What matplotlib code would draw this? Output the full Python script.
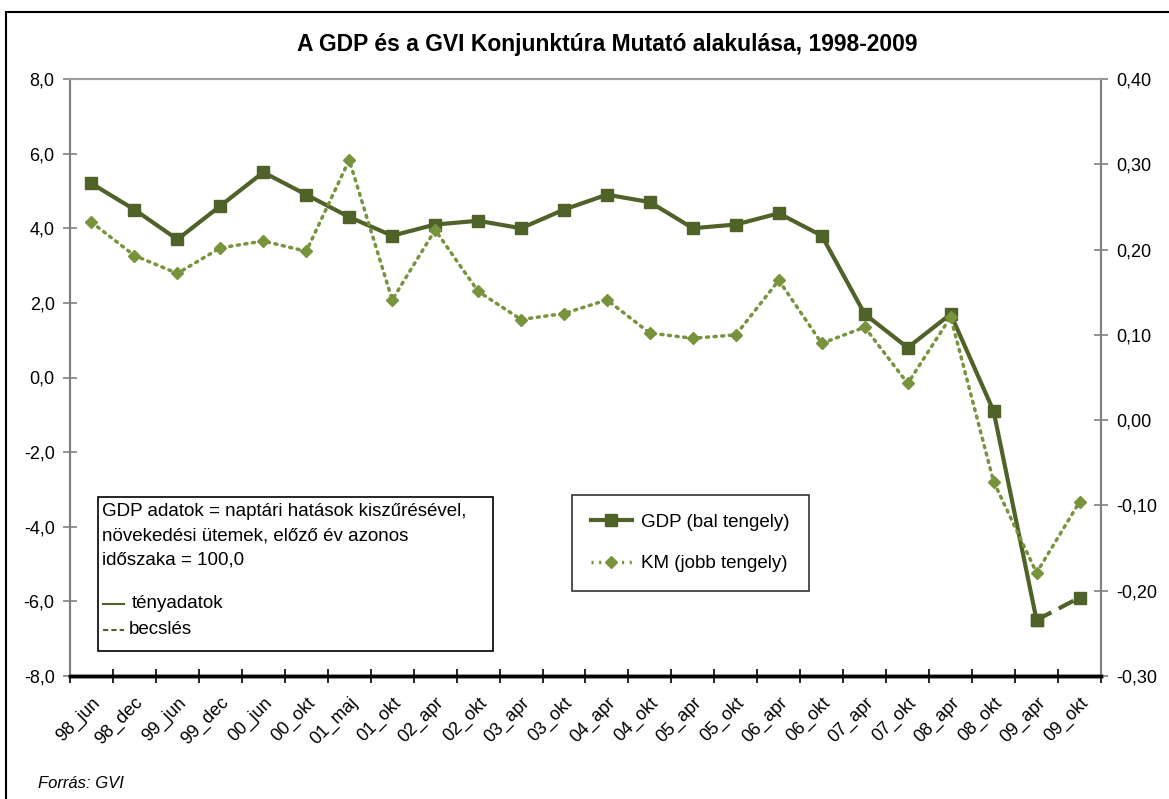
import numpy as np
import matplotlib.pyplot as plt
from matplotlib.lines import Line2D
from matplotlib.patches import Rectangle
from matplotlib.ticker import FuncFormatter

plt.rcParams['font.family'] = ['Liberation Sans', 'DejaVu Sans']

periods = ['98_jun', '98_dec', '99_jun', '99_dec', '00_jun', '00_okt', '01_maj', '01_okt',
           '02_apr', '02_okt', '03_apr', '03_okt', '04_apr', '04_okt', '05_apr', '05_okt',
           '06_apr', '06_okt', '07_apr', '07_okt', '08_apr', '08_okt', '09_apr', '09_okt']
gdp = [5.2, 4.5, 3.7, 4.6, 5.5, 4.9, 4.3, 3.8, 4.1, 4.2, 4.0, 4.5,
       4.9, 4.7, 4.0, 4.1, 4.4, 3.8, 1.7, 0.8, 1.7, -0.9, -6.5, -5.9]
km = [0.232, 0.193, 0.172, 0.202, 0.210, 0.198, 0.305, 0.141, 0.223, 0.151, 0.118, 0.125,
      0.141, 0.102, 0.096, 0.100, 0.164, 0.090, 0.109, 0.043, 0.121, -0.072, -0.179, -0.096]
n_actual = 23  # first 23 GDP values are actual data, last segment is estimate

dark = '#4F6228'
light = '#77933C'
W, H = 1169, 799

def fx(px):
    return px / W

def fy(py):
    return 1 - py / H

fig = plt.figure(figsize=(W / 100, H / 100), dpi=100)
ax = fig.add_axes([fx(70), fy(676), fx(1101) - fx(70), fy(79) - fy(676)])
ax2 = ax.twinx()

x = np.arange(len(periods))
ax.plot(x[:n_actual], gdp[:n_actual], color=dark, lw=3, marker='s', ms=8, zorder=4)
ax.plot(x[n_actual - 1:], gdp[n_actual - 1:], color=dark, lw=3, ls=(0, (4, 2)),
        marker='s', ms=8, zorder=4)
ax2.plot(x, km, color=light, lw=2.5, ls=(0, (0.6, 1.6)), dash_capstyle='round',
         marker='D', ms=6.5, zorder=3)

ax.set_xlim(-0.5, len(periods) - 0.5)
ax.set_ylim(-8, 8)
ax2.set_ylim(-0.30, 0.40)
ax.set_yticks(np.arange(-8, 8.1, 2))
ax2.set_yticks(np.arange(-0.30, 0.401, 0.10))
ax.yaxis.set_major_formatter(FuncFormatter(lambda v, p: f'{v:.1f}'.replace('.', ',')))
ax2.yaxis.set_major_formatter(FuncFormatter(lambda v, p: f'{v:.2f}'.replace('.', ',').replace('-0,00', '0,00')))

ax.set_xticks(x)
ax.set_xticklabels(periods, rotation=45, ha='right', rotation_mode='anchor')
ax.tick_params(axis='x', which='major', length=0, pad=13, labelsize=13)
ax.set_xticks(np.arange(-0.5, len(periods), 1), minor=True)
ax.tick_params(axis='x', which='minor', direction='inout', length=10, width=1.2, color='black')
ax.tick_params(axis='y', direction='inout', length=10, width=1.2, color='#808080', labelsize=13, pad=6)
ax2.tick_params(axis='y', direction='inout', length=10, width=1.2, color='#808080', labelsize=13, pad=6)

for a in (ax, ax2):
    a.spines['left'].set_color('#808080')
    a.spines['right'].set_color('#808080')
    a.spines['left'].set_linewidth(1.5)
    a.spines['right'].set_linewidth(1.5)
    a.spines['top'].set_color('#a0a0a0')
    a.spines['top'].set_linewidth(1.5)
    a.spines['bottom'].set_color('black')
    a.spines['bottom'].set_linewidth(2.5)

# series legend
handles = [Line2D([], [], color=dark, lw=3, marker='s', ms=8),
           Line2D([], [], color=light, lw=2.5, ls=(0, (0.6, 1.6)), marker='D', ms=6.5)]
leg = ax.legend(handles, ['GDP (bal tengely)', 'KM (jobb tengely)'],
                loc='lower left', bbox_to_anchor=((572 - 70) / 1031, (676 - 591) / 597),
                borderaxespad=0, fontsize=13.5, frameon=True, fancybox=False, edgecolor='black',
                handlelength=2.2, labelspacing=1.3, borderpad=1.0, handletextpad=0.5)
leg.get_frame().set_linewidth(1.2)

# note box
fig.patches.append(Rectangle((fx(98), fy(651)), fx(493) - fx(98), fy(497) - fy(651),
                             transform=fig.transFigure, fill=False, ec='black', lw=1.2))
notes = ['GDP adatok = naptári hatások kiszűrésével,',
         'növekedési ütemek, előző év azonos',
         'időszaka = 100,0']
for i, t in enumerate(notes):
    fig.text(fx(102), fy(512 + i * 24), t, fontsize=13.5, va='center')
fig.add_artist(Line2D([fx(103), fx(124)], [fy(604), fy(604)], color=dark, lw=1.5))
fig.text(fx(132), fy(604), 'tényadatok', fontsize=13.5, va='center')
fig.add_artist(Line2D([fx(103), fx(124)], [fy(630), fy(630)], color=dark, lw=1.5, ls=(0, (2.5, 1.5))))
fig.text(fx(129), fy(630), 'becslés', fontsize=13.5, va='center')

fig.text(fx(607), fy(45), 'A GDP és a GVI Konjunktúra Mutató alakulása, 1998-2009',
         fontsize=16.5, fontweight='bold', ha='center', va='center')
fig.text(fx(38), fy(783), 'Forrás: GVI', fontsize=12, style='italic', va='center')

fig.patches.append(Rectangle((fx(6), fy(1200)), 2, fy(12) - fy(1200), transform=fig.transFigure,
                             fill=False, ec='black', lw=1.5))

fig.savefig('out.png', dpi=100)
